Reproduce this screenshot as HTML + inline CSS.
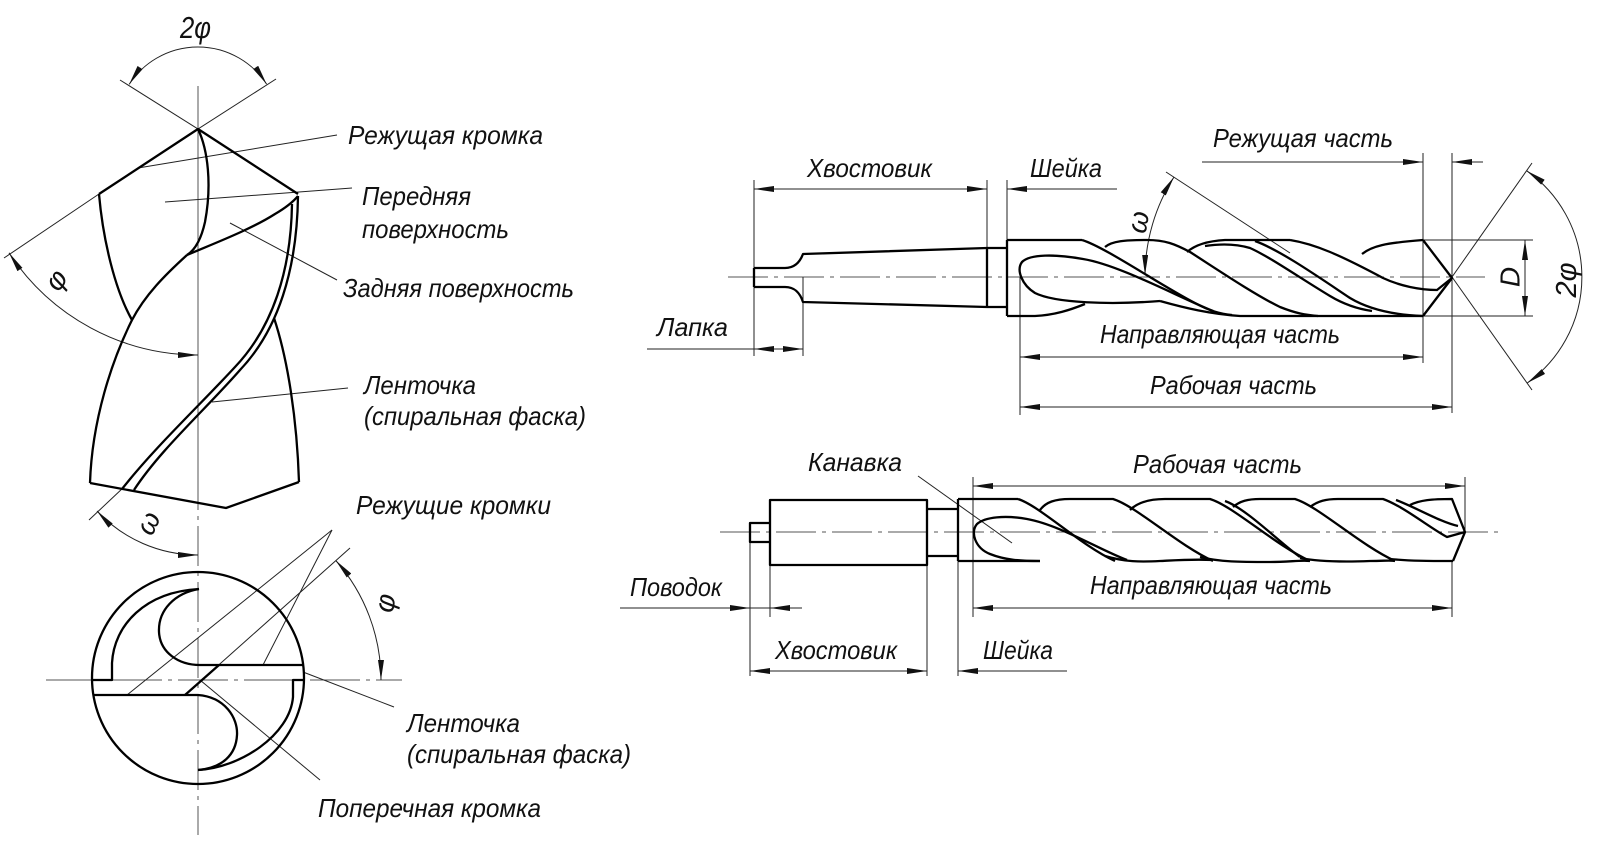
<!DOCTYPE html>
<html><head><meta charset="utf-8"><style>
html,body{margin:0;padding:0;background:#fff;}
svg{display:block;}
text{font-family:"Liberation Sans Narrow","Liberation Sans",sans-serif;font-style:italic;fill:#111;font-size:26px;}
</style></head><body>
<svg width="1600" height="858" viewBox="0 0 1600 858" xmlns="http://www.w3.org/2000/svg">
<defs>
<marker id="ar" viewBox="0 0 20 6" refX="20" refY="3" markerWidth="20" markerHeight="6" markerUnits="userSpaceOnUse" orient="auto-start-reverse"><path d="M0,0 L20,3 L0,6 Z" fill="#111"/></marker>
</defs>
<rect width="1600" height="858" fill="#fff"/>

<!-- ================= LEFT TOP DRILL ================= -->
<g stroke="#555" stroke-width="1" fill="none">
<line x1="198" y1="86" x2="198" y2="470"/>
<line x1="198" y1="470" x2="198" y2="835" stroke-dasharray="40,6,4,6"/>
<line x1="46" y1="680" x2="402" y2="680" stroke-dasharray="50,6,4,6"/>
</g>
<g stroke="#222" stroke-width="1" fill="none">
<line x1="120" y1="80" x2="198" y2="129"/>
<line x1="276" y1="79" x2="198" y2="129"/>
<path d="M129.2,84.3 A82,82 0 0 1 266.6,84.1" marker-start="url(#ar)" marker-end="url(#ar)"/>
<line x1="99" y1="194" x2="4" y2="258"/>
<path d="M9,252.8 A226,226 0 0 0 198,355" marker-start="url(#ar)" marker-end="url(#ar)"/>
<line x1="124" y1="487" x2="89" y2="520"/>
<path d="M97,511 A138,138 0 0 0 198,555" marker-start="url(#ar)" marker-end="url(#ar)"/>
<line x1="138" y1="168" x2="337" y2="135"/>
<line x1="165" y1="202" x2="352" y2="188"/>
<line x1="230" y1="223" x2="337" y2="280"/>
<line x1="212" y1="402" x2="348" y2="388"/>
</g>
<g stroke="#000" stroke-width="2.3" fill="none" stroke-linejoin="round">
<path d="M99,194 L198,129 L298,194"/>
<path d="M198,129 C208,150 212,185 205,222 C201,240 195,250 187,255"/>
<path d="M187,255 C210,245 250,230 275,214 C287,207 293,202 298,196"/>
<path d="M99,194 C103,240 115,290 132,320"/>
<path d="M187,255 C165,275 145,295 132,320 C112,360 92,420 90,483"/>
<path d="M298,196 C297,270 278,330 240,370 C205,410 160,450 134,490"/>
<path d="M292,204 C291,270 273,327 235,367 C200,405 155,447 122,489"/>
<path d="M274,318 C288,360 297,420 299,482"/>
<path d="M90,483 L226,508 L299,482"/>
</g>

<!-- ================= LEFT CIRCLE VIEW ================= -->
<g stroke="#222" stroke-width="1" fill="none">
<line x1="127" y1="695" x2="332" y2="530"/>
<line x1="185" y1="695" x2="350" y2="548"/>
<line x1="263" y1="665" x2="332" y2="530"/>
<path d="M335.8,560.5 A181,181 0 0 1 381,680" marker-start="url(#ar)" marker-end="url(#ar)"/>
<line x1="303" y1="672" x2="394" y2="707"/>
<line x1="200" y1="680" x2="320" y2="780"/>
</g>
<g stroke="#000" stroke-width="2.3" fill="none" stroke-linejoin="round">
<circle cx="198" cy="678" r="106"/>
<path d="M92,680 L112,680 L112,663 C114,625 145,592 199,589"/>
<path d="M199,589 C175,593 158,610 159,632 C160,652 178,665 200,665 L304,665"/>
<path d="M93,695 L198,695 C225,697 238,718 237,735 C236,755 222,768 198,770"/>
<path d="M198,770 C240,768 290,735 293,697 L293,680 L304,680"/>
<path d="M185,695 L219,665"/>
</g>

<!-- Left texts -->
<text x="180" y="38" textLength="31" lengthAdjust="spacingAndGlyphs" style="font-size:31px">2φ</text>
<text x="348" y="144" textLength="195" lengthAdjust="spacingAndGlyphs">Режущая кромка</text>
<text x="362" y="205" textLength="109" lengthAdjust="spacingAndGlyphs">Передняя</text>
<text x="362" y="238" textLength="147" lengthAdjust="spacingAndGlyphs">поверхность</text>
<text x="343" y="297" textLength="231" lengthAdjust="spacingAndGlyphs">Задняя поверхность</text>
<text x="364" y="394" textLength="112" lengthAdjust="spacingAndGlyphs">Ленточка</text>
<text x="364" y="425" textLength="222" lengthAdjust="spacingAndGlyphs">(спиральная фаска)</text>
<text x="356" y="514" textLength="195" lengthAdjust="spacingAndGlyphs">Режущие кромки</text>
<text x="407" y="732" textLength="113" lengthAdjust="spacingAndGlyphs">Ленточка</text>
<text x="407" y="763" textLength="224" lengthAdjust="spacingAndGlyphs">(спиральная фаска)</text>
<text x="318" y="817" textLength="223" lengthAdjust="spacingAndGlyphs">Поперечная кромка</text>
<text transform="translate(56,280) rotate(-55)" text-anchor="middle" dominant-baseline="central" style="font-size:28px">φ</text>
<text transform="translate(148,523) rotate(-65)" text-anchor="middle" dominant-baseline="central" style="font-size:28px">ω</text>
<text transform="translate(385,603) rotate(-80)" text-anchor="middle" dominant-baseline="central" style="font-size:28px">φ</text>

<!-- ================= TOP RIGHT DRILL ================= -->
<g stroke="#555" stroke-width="1" fill="none">
<line x1="728" y1="277" x2="1485" y2="277" stroke-dasharray="40,6,4,6"/>
</g>
<g stroke="#222" stroke-width="1" fill="none">
<line x1="754" y1="180" x2="754" y2="356"/>
<line x1="987" y1="180" x2="987" y2="248"/>
<line x1="1007" y1="180" x2="1007" y2="240"/>
<line x1="803" y1="277" x2="803" y2="356"/>
<line x1="754" y1="189" x2="987" y2="189" marker-start="url(#ar)" marker-end="url(#ar)"/>
<line x1="1117" y1="189" x2="1007" y2="189" marker-end="url(#ar)"/>
<line x1="647" y1="349" x2="803" y2="349"/>
<line x1="754" y1="349" x2="803" y2="349" marker-start="url(#ar)" marker-end="url(#ar)"/>
<line x1="1020" y1="277" x2="1020" y2="415"/>
<line x1="1423" y1="153" x2="1423" y2="363"/>
<line x1="1452" y1="153" x2="1452" y2="413"/>
<line x1="1202" y1="162" x2="1423" y2="162" marker-end="url(#ar)"/>
<line x1="1483" y1="162" x2="1452" y2="162" marker-end="url(#ar)"/>
<line x1="1020" y1="357" x2="1423" y2="357" marker-start="url(#ar)" marker-end="url(#ar)"/>
<line x1="1020" y1="407" x2="1452" y2="407" marker-start="url(#ar)" marker-end="url(#ar)"/>
<line x1="1423" y1="240" x2="1533" y2="240"/>
<line x1="1423" y1="316" x2="1533" y2="316"/>
<line x1="1525" y1="240" x2="1525" y2="316" marker-start="url(#ar)" marker-end="url(#ar)"/>
<line x1="1452" y1="277" x2="1532" y2="163"/>
<line x1="1452" y1="277" x2="1532" y2="390"/>
<path d="M1526.6,170.7 A130,130 0 0 1 1527.1,383.1" marker-start="url(#ar)" marker-end="url(#ar)"/>
<line x1="1166" y1="172" x2="1290" y2="253"/>
<path d="M1174,177 A185,185 0 0 0 1145,275" marker-start="url(#ar)" marker-end="url(#ar)"/>
</g>
<g stroke="#000" stroke-width="2.3" fill="none" stroke-linejoin="round">
<path d="M754,268 L754,287"/>
<path d="M754,268 L785,268 C795,268 800,262 803,254 L987,248"/>
<path d="M754,287 L785,287 C795,287 800,293 803,302 L987,307"/>
<path d="M987,248 L987,307"/>
<path d="M987,248 L1007,248 M987,307 L1007,307"/>
<path d="M1007,240 L1007,316"/>
<path d="M1007,240 L1082,240"/>
<path d="M1082,240 C1105,247 1160,285 1195,303 C1210,311 1220,314 1232,315"/>
<path d="M1105,247 C1112,241 1125,240 1147,240 C1165,240 1175,244 1190,252 C1215,268 1255,295 1280,307 C1295,313 1305,315 1318,316"/>
<path d="M1187,252 C1195,245 1207,241 1225,240 L1290,240"/>
<path d="M1255,241 C1280,250 1320,278 1350,298 C1370,310 1395,315 1423,316"/>
<path d="M1205,246 C1225,243 1240,245 1250,248 C1270,257 1300,278 1330,296 C1345,305 1358,309 1372,311"/>
<path d="M1290,240 C1315,244 1340,255 1383,278 C1400,286 1420,290 1437,290 L1452,278"/>
<path d="M1362,254 C1372,246 1385,243 1423,240"/>
<path d="M1423,240 L1452,278 L1423,316"/>
<path d="M1007,316 L1035,316 C1055,315 1070,310 1085,304"/>
<path d="M1160,301 C1185,308 1210,314 1240,316 L1423,316"/>
<path d="M1213,311 C1180,298 1120,265 1083,259 C1055,254 1030,254 1022,262 C1016,270 1022,285 1035,293 C1055,303 1110,305 1160,301"/>
</g>
<text x="807" y="177" textLength="125" lengthAdjust="spacingAndGlyphs">Хвостовик</text>
<text x="1030" y="177" textLength="72" lengthAdjust="spacingAndGlyphs">Шейка</text>
<text x="1213" y="147" textLength="180" lengthAdjust="spacingAndGlyphs">Режущая часть</text>
<text x="657" y="336" textLength="71" lengthAdjust="spacingAndGlyphs">Лапка</text>
<text x="1100" y="343" textLength="240" lengthAdjust="spacingAndGlyphs">Направляющая часть</text>
<text x="1150" y="394" textLength="167" lengthAdjust="spacingAndGlyphs">Рабочая часть</text>
<text transform="translate(1510,277) rotate(-90)" text-anchor="middle" dominant-baseline="central" style="font-size:28px">D</text>
<text transform="translate(1567,280) rotate(-90)" text-anchor="middle" dominant-baseline="central" style="font-size:29px">2φ</text>
<text transform="translate(1138,222) rotate(-80)" text-anchor="middle" dominant-baseline="central" style="font-size:28px">ω</text>

<!-- ================= BOTTOM RIGHT DRILL ================= -->
<g stroke="#555" stroke-width="1" fill="none">
<line x1="720" y1="532" x2="1500" y2="532" stroke-dasharray="40,6,4,6"/>
</g>
<g stroke="#222" stroke-width="1" fill="none">
<line x1="918" y1="476" x2="1012" y2="543"/>
<line x1="750" y1="542" x2="750" y2="676"/>
<line x1="770" y1="565" x2="770" y2="617"/>
<line x1="927" y1="565" x2="927" y2="676"/>
<line x1="958" y1="561" x2="958" y2="676"/>
<line x1="973" y1="477" x2="973" y2="617"/>
<line x1="1465" y1="477" x2="1465" y2="532"/>
<line x1="1452" y1="562" x2="1452" y2="617"/>
<line x1="973" y1="486" x2="1465" y2="486" marker-start="url(#ar)" marker-end="url(#ar)"/>
<line x1="973" y1="608" x2="1452" y2="608" marker-start="url(#ar)" marker-end="url(#ar)"/>
<line x1="620" y1="608" x2="802" y2="608"/>
<line x1="700" y1="608" x2="750" y2="608" marker-end="url(#ar)"/>
<line x1="802" y1="608" x2="770" y2="608" marker-end="url(#ar)"/>
<line x1="750" y1="671" x2="927" y2="671" marker-start="url(#ar)" marker-end="url(#ar)"/>
<line x1="1067" y1="671" x2="958" y2="671" marker-end="url(#ar)"/>
</g>
<g stroke="#000" stroke-width="2.3" fill="none" stroke-linejoin="round">
<path d="M770,523 L750,523 L750,542 L770,542"/>
<rect x="770" y="500" width="157" height="65"/>
<path d="M927,509 L958,509 M927,556 L958,556"/>
<path d="M958,499 L958,561"/>
<path d="M958,499 L1018,499"/>
<path d="M958,561 L1040,561"/>
<path d="M1105,556 C1125,562 1140,562 1160,561 C1180,560 1195,559 1212,560"/>
<path d="M1200,557 C1220,562 1240,562 1270,562 C1290,562 1300,560 1310,561"/>
<path d="M1300,558 C1320,562 1345,562 1370,561 C1385,561 1390,560 1395,561"/>
<path d="M1390,559 C1410,561 1430,561 1453,561"/>
<path d="M1018,499 C1040,506 1080,545 1115,561"/>
<path d="M1040,510 C1046,502 1055,499 1070,499 L1113,499 C1136,506 1178,545 1213,561"/>
<path d="M1130,510 C1138,502 1150,499 1165,499 L1210,499 C1233,506 1275,545 1310,561"/>
<path d="M1225,501 C1247,509 1280,543 1300,557"/>
<path d="M1233,507 C1240,501 1248,499 1260,499 L1295,499 C1318,506 1360,545 1395,561"/>
<path d="M1310,507 C1318,501 1326,499 1338,499 L1383,499 C1403,506 1430,528 1447,537 L1465,532"/>
<path d="M1396,500 C1415,507 1440,522 1458,526"/>
<path d="M1410,505 C1420,500 1432,499 1452,499 L1465,532 L1453,561"/>
<path d="M1127,560 C1100,550 1060,525 1027,519 C1005,515 985,517 977,524 C970,532 975,548 990,554 C1005,560 1020,561 1040,561"/>
</g>
<text x="808" y="471" textLength="94" lengthAdjust="spacingAndGlyphs">Канавка</text>
<text x="1133" y="473" textLength="169" lengthAdjust="spacingAndGlyphs">Рабочая часть</text>
<text x="1090" y="594" textLength="242" lengthAdjust="spacingAndGlyphs">Направляющая часть</text>
<text x="630" y="596" textLength="92" lengthAdjust="spacingAndGlyphs">Поводок</text>
<text x="775" y="659" textLength="122" lengthAdjust="spacingAndGlyphs">Хвостовик</text>
<text x="983" y="659" textLength="70" lengthAdjust="spacingAndGlyphs">Шейка</text>
</svg>
</body></html>
